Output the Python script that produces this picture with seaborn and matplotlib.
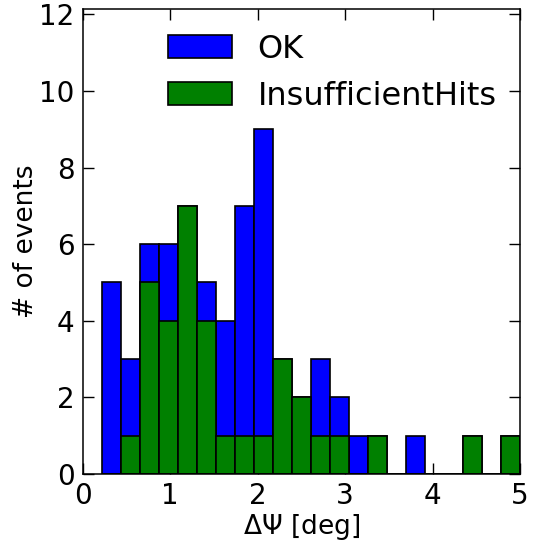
import numpy as np
import pandas as pd
import matplotlib
matplotlib.use("Agg")
import matplotlib.pyplot as plt
import seaborn as sns

# histogram bins (22 equal bins from data minimum to 5 deg)
n_bins = 22
bin_range = (0.215, 5.0)
bin_edges = np.linspace(bin_range[0], bin_range[1], n_bins + 1)
bin_centers = 0.5 * (bin_edges[:-1] + bin_edges[1:])

# bar heights (blue hidden behind green where not taller)
ok_counts = [5, 3, 6, 6, 7, 5, 4, 7, 9, 3, 2, 3, 2, 1, 1, 0, 1, 0, 0, 1, 0, 1]
hits_counts = [0, 1, 5, 4, 7, 4, 1, 1, 1, 3, 2, 1, 1, 0, 1, 0, 0, 0, 0, 1, 0, 1]

df = pd.DataFrame({"dpsi": bin_centers, "ok": ok_counts, "hits": hits_counts})

sns.set_style("ticks")
plt.rcParams["font.family"] = ["DejaVu Sans"]
plt.rcParams["text.color"] = "black"
plt.rcParams["axes.labelcolor"] = "black"

fig = plt.figure(figsize=(5.35, 5.42), dpi=100)
ax = fig.add_axes([0.1546, 0.1255, 0.8174, 0.858])

sns.histplot(data=df, x="dpsi", weights="ok", bins=n_bins, binrange=bin_range,
             color="blue", edgecolor="black", linewidth=1.2, alpha=1,
             label="OK", ax=ax)
sns.histplot(data=df, x="dpsi", weights="hits", bins=n_bins, binrange=bin_range,
             color="#008000", edgecolor="black", linewidth=1.2, alpha=1,
             label="InsufficientHits", ax=ax)

ax.set_xlim(0, 5)
ax.set_ylim(0, 12.14)
ax.set_xticks(range(0, 6))
ax.set_yticks(range(0, 13, 2))
ax.tick_params(direction="in", length=8, width=1, top=True, right=True,
               labelsize=20, colors="black", pad=6)
for s in ax.spines.values():
    s.set_visible(True)
    s.set_color("black")
    s.set_linewidth(1.1)

ax.set_xlabel(r"$\Delta\Psi$ [deg]", fontsize=19, labelpad=1)
ax.set_ylabel("# of events", fontsize=19)
ax.yaxis.set_label_coords(-0.099, 0.5)

ax.legend(loc="upper right", frameon=False, fontsize=23, handlelength=2.03,
          handleheight=0.72, handletextpad=0.78, labelspacing=0.5,
          bbox_to_anchor=(1.012, 1.008))

fig.savefig("out.png", dpi=100)
